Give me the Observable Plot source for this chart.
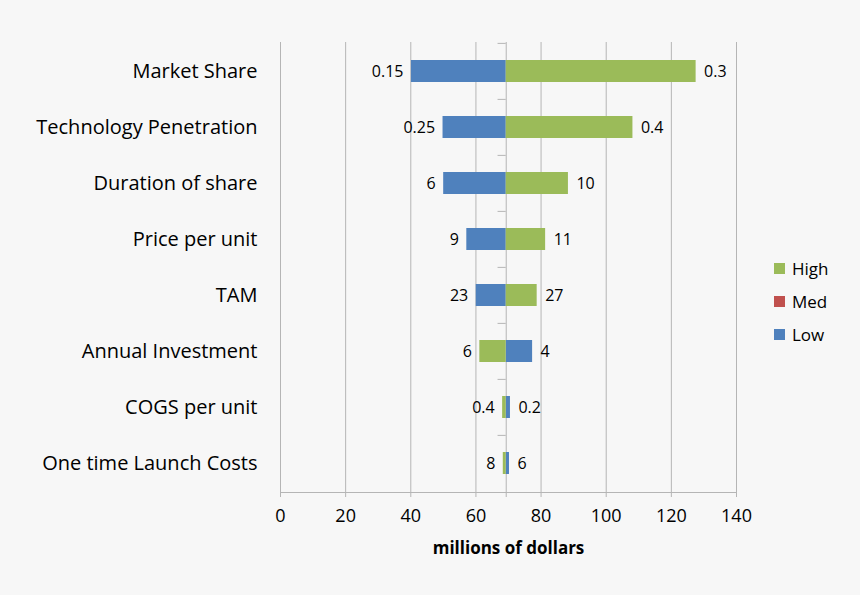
<!DOCTYPE html>
<html>
<head>
<meta charset="utf-8">
<script src="https://cdn.jsdelivr.net/npm/d3@7"></script>
<script src="https://cdn.jsdelivr.net/npm/@observablehq/plot@0.6"></script>
<style>
  html, body { margin: 0; padding: 0; background: #f7f7f7; }
  #wrap { position: relative; width: 860px; height: 595px; background: #f7f7f7; font-family: "Open Sans", sans-serif; }
  #legend { position: absolute; left: 774px; top: 252px; font-size: 17px; color: #000; }
  #legend .item { display: flex; align-items: center; height: 33px; }
  #legend .sw { width: 11px; height: 11px; margin-right: 7px; }
</style>
</head>
<body>
<div id="wrap"><div id="chart"></div><div id="legend"></div></div>
<script>
const categories = ["Market Share", "Technology Penetration", "Duration of share", "Price per unit", "TAM", "Annual Investment", "COGS per unit", "One time Launch Costs"];
const baseValue = 69.3;
const lowEnd  = [40.2, 49.9, 50.1, 57.2, 60.1, 77.4, 70.6, 70.3];
const highEnd = [127.6, 108.2, 88.4, 81.4, 78.8, 61.2, 68.2, 68.4];
const lowLabels  = ["0.15", "0.25", "6", "9", "23", "4", "0.2", "6"];
const highLabels = ["0.3", "0.4", "10", "11", "27", "6", "0.4", "8"];
const xTicks = [0, 20, 40, 60, 80, 100, 120, 140];
const seriesNames = ["High", "Med", "Low"];
const seriesColors = {High: "#9bbb59", Med: "#c0504d", Low: "#4f81bd"};

const rows = [];
categories.forEach((c, i) => {
  rows.push({cat: c, series: "Low", end: lowEnd[i], label: lowLabels[i]});
  rows.push({cat: c, series: "High", end: highEnd[i], label: highLabels[i]});
});
const leftRows = rows.filter(d => d.end < baseValue);
const rightRows = rows.filter(d => d.end >= baseValue);
const gridColor = "#b5b5b5";

const chart = Plot.plot({
  width: 860,
  height: 595,
  marginLeft: 280,
  marginRight: 124,
  marginTop: 42,
  marginBottom: 103,
  style: {background: "transparent", fontFamily: "Open Sans, sans-serif", color: "#000"},
  x: {domain: [0, 140], label: null, axis: null},
  y: {domain: categories, paddingInner: 0.6, paddingOuter: 0.3, label: null, axis: null},
  marks: [
    Plot.gridX(xTicks, {stroke: gridColor, strokeOpacity: 1}),
    Plot.ruleX([baseValue], {stroke: gridColor, strokeOpacity: 1}),
    Plot.ruleY(categories, {y: d => d, x1: baseValue - 2.5, x2: baseValue, dy: -28.125, stroke: gridColor}),
    Plot.frame({anchor: "bottom", stroke: gridColor}),
    Plot.axisX(xTicks.concat([baseValue]), {tickSize: 5, text: null, stroke: gridColor}),
    Plot.axisX(xTicks, {tickSize: 0, tickPadding: 17, fontSize: 18, fill: "#000"}),
    Plot.axisY(categories, {tickSize: 0, tickPadding: 23, fontSize: 20, fill: "#000"}),
    Plot.barX(rows, {y: "cat", x1: baseValue, x2: "end", fill: d => seriesColors[d.series]}),
    Plot.text(leftRows, {y: "cat", x: "end", text: "label", fontSize: 16, fill: "#000", textAnchor: "end", dx: -8}),
    Plot.text(rightRows, {y: "cat", x: "end", text: "label", fontSize: 16, fill: "#000", textAnchor: "start", dx: 8}),
    Plot.text(["millions of dollars"], {frameAnchor: "bottom", dy: 61, fontSize: 17, fontWeight: "bold", fill: "#000"})
  ]
});
document.getElementById("chart").appendChild(chart);

const legend = document.getElementById("legend");
seriesNames.forEach(s => {
  const item = document.createElement("div");
  item.className = "item";
  const sw = document.createElement("div");
  sw.className = "sw";
  sw.style.background = seriesColors[s];
  const tx = document.createElement("span");
  tx.textContent = s;
  item.appendChild(sw); item.appendChild(tx);
  legend.appendChild(item);
});
</script>
</body>
</html>
